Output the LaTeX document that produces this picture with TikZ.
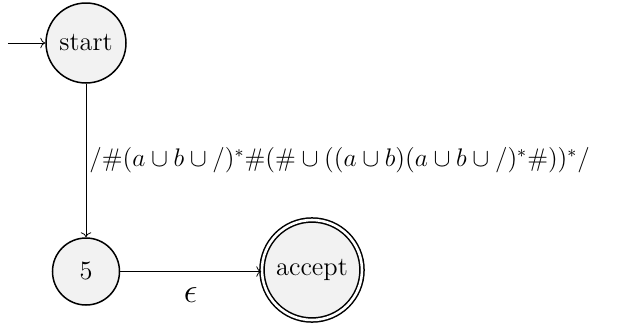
\documentclass[tikz,border=0pt]{standalone}
\usetikzlibrary{arrows.meta}
\begin{document}
\begin{tikzpicture}[x=0.5pt,y=-0.5pt,
  every node/.style={font=\fontsize{13.2}{16}\selectfont},
  state/.style={circle,draw,line width=0.75pt,fill=gray!10,inner sep=0pt},
  edge/.style={->}]
\useasboundingbox (0,0) rectangle (629,323);
\node[state,minimum size=40pt] (start) at (86,43) {start};
\node[state,minimum size=33.5pt] (five) at (86,271.5) {5};
\node[state,double,double distance=1.3pt,minimum size=50pt] (acc) at (312,270) {accept};
\coordinate (init) at (8,43);
\draw[edge] (init) -- (start);
\draw[edge] (start) -- node[right,inner sep=1.5pt,font=\fontsize{12}{15}\selectfont]{\scalebox{1.06}{$/\#(a\cup b\cup /)^*\#(\#\cup((a\cup b)(a\cup b\cup /)^*\#))^*/$}} (five);
\draw[edge] (five.east) -- node[below,inner sep=0pt,yshift=-8pt,font=\fontsize{17}{20}\selectfont]{$\epsilon$} (five.east -| acc.west);
\end{tikzpicture}
\end{document}
